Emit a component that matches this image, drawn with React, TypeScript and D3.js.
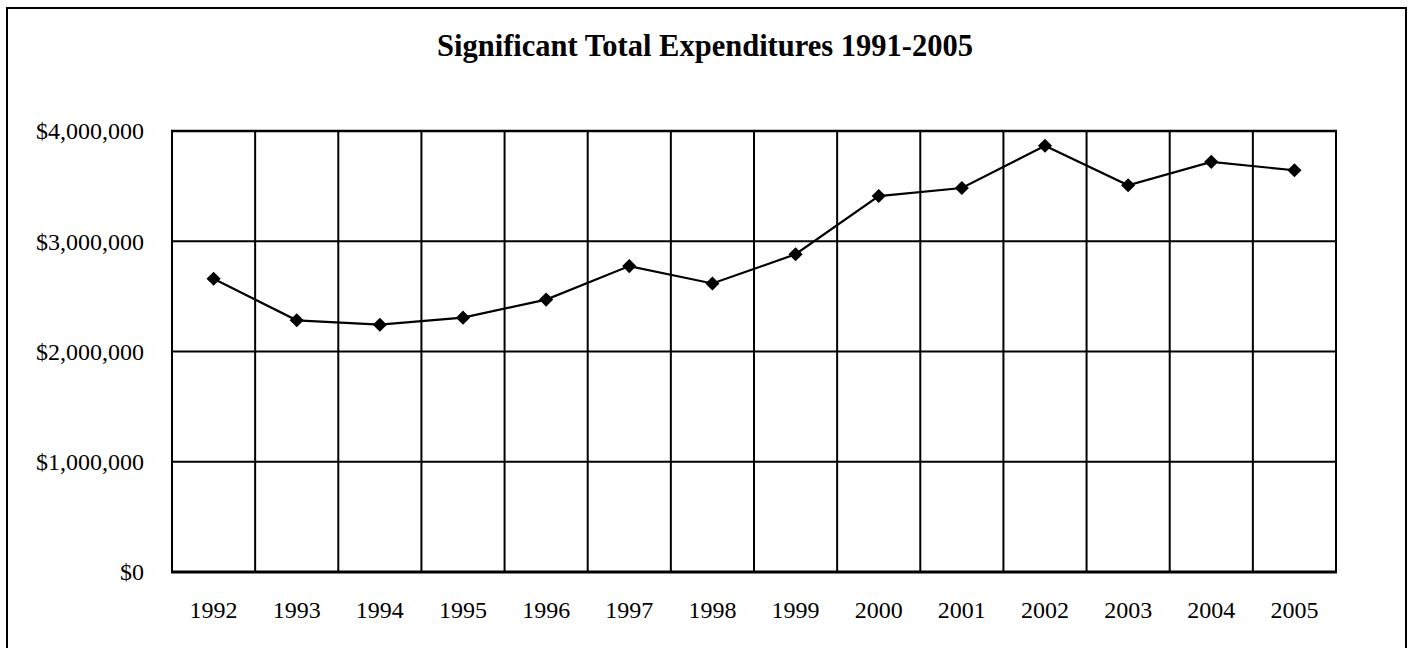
import React from "react";
import * as d3 from "d3";

const years = ["1992","1993","1994","1995","1996","1997","1998","1999","2000","2001","2002","2003","2004","2005"];
const expenditures = [2660000, 2283000, 2243000, 2307000, 2471000, 2775000, 2617000, 2882000, 3410000, 3483000, 3866000, 3508000, 3720000, 3644000];
const yTicks = [0, 1000000, 2000000, 3000000, 4000000];
const title = "Significant Total Expenditures 1991-2005";

export default function App() {
  const W = 1410, H = 648;
  const left = 172, right = 1336, top = 131, bottom = 572;
  const x = d3.scaleBand().domain(years).range([left, right]).padding(0);
  const y = d3.scaleLinear().domain([0, 4000000]).range([bottom, top]);
  const fmt = (v: number) => "$" + d3.format(",")(v);
  const line = d3.line<number>()
    .x((_, i) => (x(years[i]) as number) + x.bandwidth() / 2)
    .y((d) => y(d));
  const marker = d3.symbol().type(d3.symbolSquare).size(100)();
  const font = "'Liberation Serif', 'Times New Roman', serif";
  const boundaries = years.map((yr) => x(yr) as number).concat([right]);
  return (
    <svg width={W} height={H} style={{ position: "absolute", left: 0, top: 0, display: "block" }} fontFamily={font}>
      <rect x={0} y={0} width={W} height={H} fill="#fff" />
      <rect x={7} y={8} width={1399} height={660} fill="none" stroke="#000" strokeWidth={2} />
      <text x={705} y={56} textAnchor="middle" fontSize={30.5} fontWeight="bold">{title}</text>
      {yTicks.map((t) => (
        <g key={t}>
          {t > 0 && <line x1={left} x2={right} y1={y(t)} y2={y(t)} stroke="#000" strokeWidth={2} />}
          <text x={144} y={y(t)} dy="0.35em" textAnchor="end" fontSize={24}>{fmt(t)}</text>
        </g>
      ))}
      {boundaries.map((bx, i) => (
        <line key={i} x1={bx} x2={bx} y1={top} y2={bottom} stroke="#000" strokeWidth={2} />
      ))}
      <line x1={left - 1} x2={right + 1} y1={top} y2={top} stroke="#000" strokeWidth={2.5} />
      <line x1={left - 1} x2={right + 1} y1={bottom} y2={bottom} stroke="#000" strokeWidth={3} />
      {years.map((yr) => (
        <text key={yr} x={(x(yr) as number) + x.bandwidth() / 2} y={618} textAnchor="middle" fontSize={24}>{yr}</text>
      ))}
      <path d={line(expenditures) || ""} fill="none" stroke="#000" strokeWidth={2.2} />
      {expenditures.map((v, i) => (
        <path key={i} d={marker || ""} transform={`translate(${(x(years[i]) as number) + x.bandwidth() / 2},${y(v)}) rotate(45)`} fill="#000" />
      ))}
    </svg>
  );
}
